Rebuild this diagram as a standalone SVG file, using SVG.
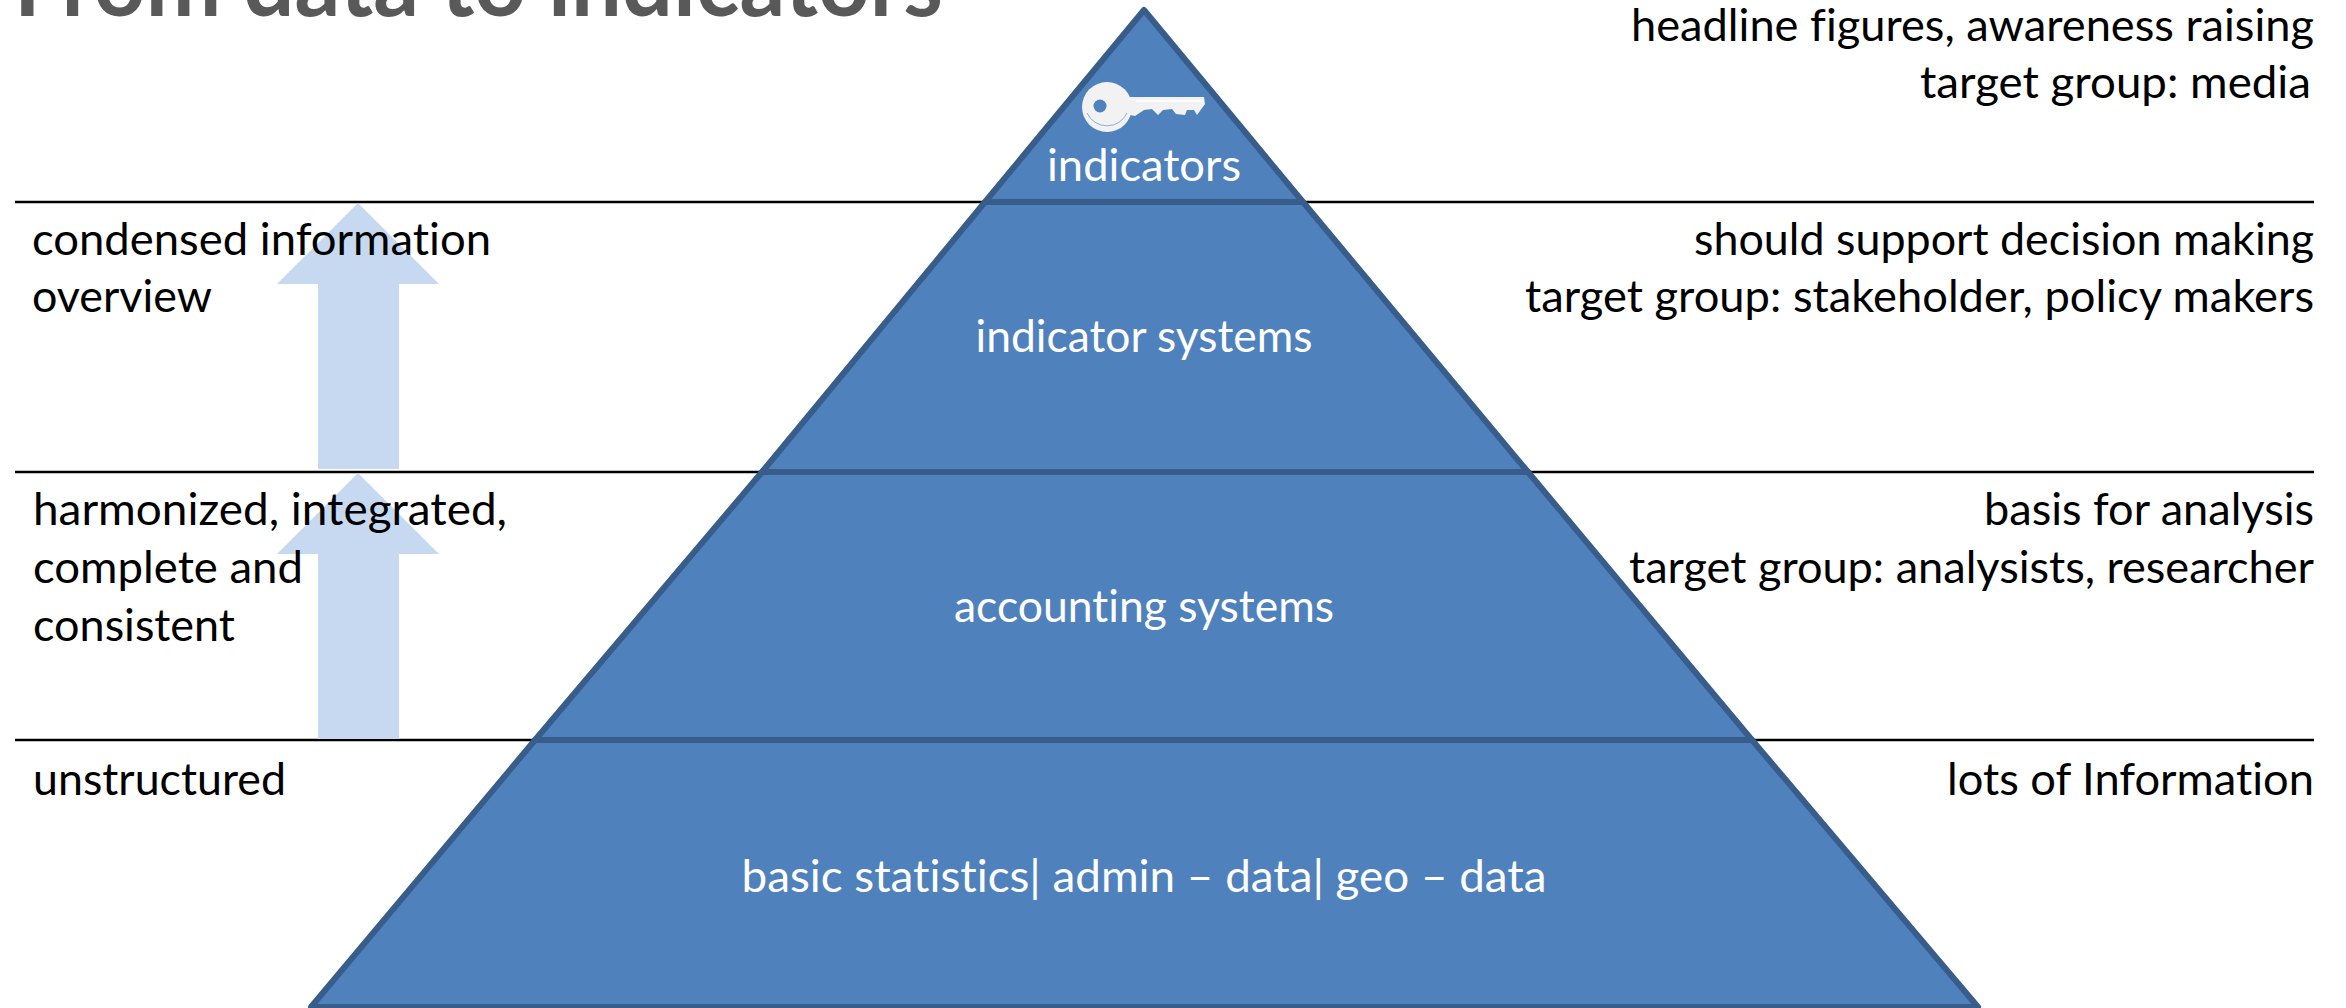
<svg xmlns="http://www.w3.org/2000/svg" width="2346" height="1008" viewBox="0 0 2346 1008">
<style>
text{font-family:Lato,"Liberation Sans",sans-serif;font-size:44px;fill:#000;font-variant-ligatures:none}
.w{fill:#fff}.c{text-anchor:middle}
.lvl{fill:#4f81bd;stroke:#385d8a;stroke-width:6;stroke-linejoin:round}
.rule{stroke:#000;stroke-width:2.5;fill:none}
.up{fill:#c6d9f1}
</style>
<rect width="2346" height="1008" fill="#fff"/>
<text id="title" x="14" y="16" style="font-size:94px;font-weight:700;fill:#595959" textLength="929" lengthAdjust="spacingAndGlyphs">From data to indicators</text>
<g id="connectors">
<line class="rule" x1="15" y1="202" x2="2314" y2="202"/>
<line class="rule" x1="15" y1="472" x2="2314" y2="472"/>
<line class="rule" x1="15" y1="740" x2="2314" y2="740"/>
</g>
<g id="arrow-upper"><path class="up" d="M358 203L439 284H399V469H318V284H277Z"/></g>
<g id="arrow-lower"><path class="up" d="M358 473L439 554H399V739H318V554H277Z"/></g>
<g id="level-indicators"><path class="lvl" d="M1144 10L1303 202H985Z"/>
<g id="key"><circle cx="1107" cy="107" r="25" fill="#f2f2f2"/><path d="M1087 113A22 22 0 0 0 1127 113" fill="none" stroke="#8eaedb" stroke-width="1"/><circle cx="1100" cy="106" r="6.5" fill="#4f81bd"/><path d="M1130 97H1204L1205 104L1197 115L1194 110H1187L1185 115L1176 114L1172 109L1163 110L1158 115L1152 109L1144 110L1135 116L1130 115Z" fill="#f2f2f2"/><path d="M1136 101H1204" stroke="#fff" stroke-width="2"/></g>
<text class="w c" x="1144" y="181" textLength="194" lengthAdjust="spacingAndGlyphs">indicators</text></g>
<g id="level-systems"><path class="lvl" d="M985 202H1303L1528 472H762Z"/><text class="w c" x="1144" y="352" textLength="337" lengthAdjust="spacingAndGlyphs">indicator systems</text></g>
<g id="level-accounting"><path class="lvl" d="M762 472H1528L1752 740H535Z"/><text class="w c" x="1144" y="622" textLength="380" lengthAdjust="spacingAndGlyphs">accounting systems</text></g>
<g id="level-basic"><path class="lvl" d="M535 740H1752L1978 1007H311Z"/><text class="w c" x="1144" y="892" textLength="805" lengthAdjust="spacingAndGlyphs">basic statistics| admin – data| geo – data</text></g>
<g id="left-labels">
<text x="32" y="255" textLength="459" lengthAdjust="spacingAndGlyphs">condensed information</text>
<text x="32" y="312" textLength="180" lengthAdjust="spacingAndGlyphs">overview</text>
<text x="33" y="525" textLength="474" lengthAdjust="spacingAndGlyphs">harmonized, integrated,</text>
<text x="33" y="583" textLength="270" lengthAdjust="spacingAndGlyphs">complete and</text>
<text x="33" y="641" textLength="202" lengthAdjust="spacingAndGlyphs">consistent</text>
<text x="33" y="795" textLength="253" lengthAdjust="spacingAndGlyphs">unstructured</text>
</g>
<g id="right-labels">
<text x="1631" y="41" textLength="683" lengthAdjust="spacingAndGlyphs">headline figures, awareness raising</text>
<text x="1920" y="98" textLength="391" lengthAdjust="spacingAndGlyphs">target group: media</text>
<text x="1694" y="255" textLength="620" lengthAdjust="spacingAndGlyphs">should support decision making</text>
<text x="1525" y="312" textLength="789" lengthAdjust="spacingAndGlyphs">target group: stakeholder, policy makers</text>
<text x="1984" y="525" textLength="330" lengthAdjust="spacingAndGlyphs">basis for analysis</text>
<text x="1629" y="583" textLength="685" lengthAdjust="spacingAndGlyphs">target group: analysists, researcher</text>
<text x="1947" y="795" textLength="367" lengthAdjust="spacingAndGlyphs">lots of Information</text>
</g>
</svg>
